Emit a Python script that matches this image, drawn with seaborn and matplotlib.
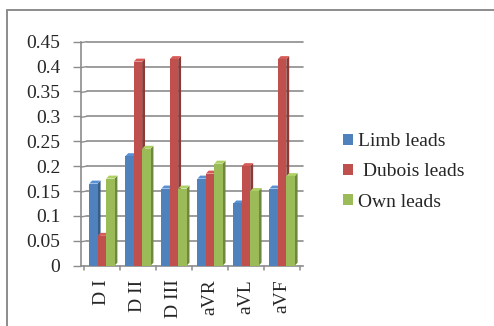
import matplotlib
matplotlib.use("Agg")
import matplotlib.pyplot as plt
from matplotlib.patches import Polygon
from matplotlib.lines import Line2D
import matplotlib.colors as mcolors
import numpy as np
import pandas as pd
import seaborn as sns

leads = ["D I", "D II", "D III", "aVR", "aVL", "aVF"]
limb_leads = [0.165, 0.22, 0.155, 0.175, 0.125, 0.155]
dubois_leads = [0.06, 0.41, 0.415, 0.185, 0.20, 0.415]
own_leads = [0.175, 0.235, 0.155, 0.205, 0.15, 0.18]
series_names = ["Limb leads", " Dubois leads", "Own leads"]
series_colors = ["#4F81BD", "#C0504D", "#9BBB59"]
y_ticks = [0, 0.05, 0.1, 0.15, 0.2, 0.25, 0.3, 0.35, 0.4, 0.45]
y_tick_labels = ["0", "0.05", "0.1", "0.15", "0.2", "0.25", "0.3", "0.35", "0.4", "0.45"]

df = pd.DataFrame({
    "lead": leads * 3,
    "value": limb_leads + dubois_leads + own_leads,
    "series": [series_names[0]] * 6 + [series_names[1]] * 6 + [series_names[2]] * 6,
})

sns.set_theme(style="white")
plt.rcParams["font.family"] = ["Liberation Serif", "DejaVu Serif"]

W, H = 494, 326
fig = plt.figure(figsize=(W / 100, H / 100), dpi=100)
# plot area: x 81..303 px, y 41.7..265.7 px
ax = fig.add_axes([81 / W, 1 - 265.7 / H, (303 - 81) / W, (265.7 - 41.7) / H])

sns.barplot(data=df, x="lead", y="value", hue="series", order=leads,
            hue_order=series_names, palette=series_colors, width=0.7,
            saturation=1, linewidth=0, ax=ax, legend=True, zorder=3)

ax.set_ylim(0, 0.45)
ax.set_xlim(-0.58, 5.58)
ax.set_yticks(y_ticks)
ax.set_yticklabels(y_tick_labels, fontsize=14)
ax.set_xticks(range(len(leads)))
ax.set_xticklabels(leads, rotation=90, fontsize=14)
ax.set_xlabel("")
ax.set_ylabel("")
ax.tick_params(axis="y", length=6, width=1, pad=9, color="#8C8C8C", left=True)
ax.tick_params(axis="x", length=0, pad=10)
ax.set_facecolor("white")

# back-wall gridlines
for t in y_ticks[1:]:
    ax.plot([-0.42, 5.58], [t, t], color="#8C8C8C", lw=1.2, zorder=1, clip_on=False)
    ax.plot([-0.58, -0.42], [t - 0.002, t], color="#8C8C8C", lw=1.0, zorder=1, clip_on=False)
for s in ["top", "right"]:
    ax.spines[s].set_visible(False)
ax.spines["left"].set_color("#8C8C8C")
ax.spines["left"].set_linewidth(1.2)
ax.spines["bottom"].set_color("#8C8C8C")
ax.spines["bottom"].set_linewidth(1.2)

# category separators below the floor
for k in range(len(leads) + 1):
    ax.plot([k - 0.5, k - 0.5], [0, -0.009], color="#8C8C8C", lw=1.1,
            clip_on=False, zorder=2)

# shade a side and top face on every column for a raised look
dx = 0.08
dy = 0.006
for bar in list(ax.patches):
    h = bar.get_height()
    if h <= 0:
        continue
    x0 = bar.get_x()
    w = bar.get_width()
    base = np.array(mcolors.to_rgb(bar.get_facecolor()))
    side = Polygon([[x0 + w, 0], [x0 + w + dx, dy], [x0 + w + dx, h + dy], [x0 + w, h]],
                   closed=True, facecolor=base * 0.72, edgecolor="none", zorder=2.9)
    top = Polygon([[x0, h], [x0 + dx, h + dy], [x0 + w + dx, h + dy], [x0 + w, h]],
                  closed=True, facecolor=np.clip(base * 1.12, 0, 1), edgecolor="none",
                  zorder=2.9)
    ax.add_patch(side)
    ax.add_patch(top)

leg = ax.legend(loc="center left", bbox_to_anchor=(343 / W, 1 - 172 / H),
                bbox_transform=fig.transFigure, frameon=False,
                fontsize=14, handlelength=0.5, handleheight=0.5,
                handletextpad=0.25, labelspacing=0.68, borderpad=0,
                borderaxespad=0)

# chart frame (left and top edges)
fig.add_artist(Line2D([6.7 / W, 6.7 / W], [0, 1 - 10 / H], transform=fig.transFigure,
                      color="#8C8C8C", lw=1.4))
fig.add_artist(Line2D([6.7 / W, 1], [1 - 10 / H, 1 - 10 / H], transform=fig.transFigure,
                      color="#8C8C8C", lw=1.4))

fig.savefig("out.png", dpi=100)
